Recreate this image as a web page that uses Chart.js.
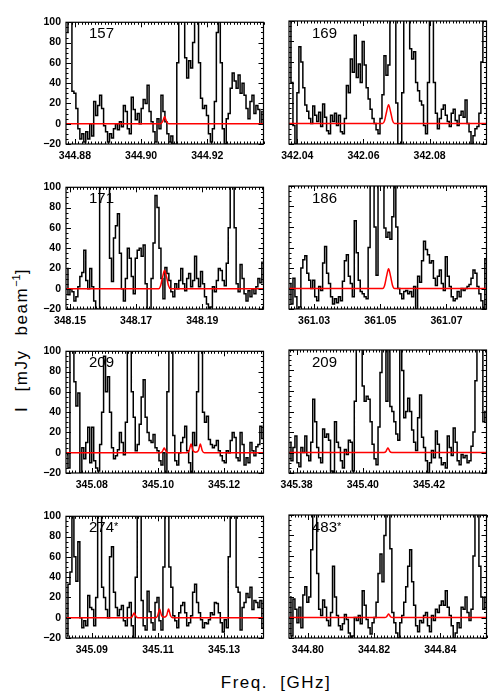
<!DOCTYPE html>
<html>
<head>
<meta charset="utf-8">
<script src="https://cdn.jsdelivr.net/npm/chart.js@4.4.1/dist/chart.umd.min.js"></script>
<style>
  body { margin: 0; background: #fff; font-family: "Liberation Sans", Arial, sans-serif; }
  #page { position: relative; width: 500px; height: 700px; overflow: hidden; }
  canvas { position: absolute; }
  .tag { position: absolute; font-size: 15px; line-height: 15px; color: #000; }
  .tag span { font-size: 11px; vertical-align: 2px; }
  #ytitle { position: absolute; left: 21px; top: 340px; font-size: 17px; letter-spacing: 1.5px; word-spacing: 8px;
            white-space: nowrap; transform: translate(-50%, -50%) rotate(-90deg); }
  #ytitle sup { font-size: 11px; letter-spacing: 0; }
  #xtitle { position: absolute; left: 276px; top: 683px; font-size: 17px; letter-spacing: 1.5px; word-spacing: 6px;
            white-space: nowrap; transform: translate(-50%, -50%); }
</style>
</head>
<body>
<div id="page">
  <div id="ytitle">I [mJy beam<sup>−1</sup>]</div>
  <div id="xtitle">Freq. [GHz]</div>
</div>
<script>
// panel labels and x ranges (GHz)
const names = ['157', '169', '171', '186', '209', '209', '274', '483'];
const starred = [false, false, false, false, false, false, true, true];
const xMins = [344.8773, 342.0375, 348.1488, 361.0224, 345.0722, 345.3777, 345.0822, 344.7943];
const xMaxs = [344.9370, 342.0972, 348.2085, 361.0821, 345.1319, 345.4374, 345.1419, 344.8540];
const xTicks = [
  [344.88, 344.90, 344.92],
  [342.04, 342.06, 342.08],
  [348.15, 348.17, 348.19],
  [361.03, 361.05, 361.07],
  [345.08, 345.10, 345.12],
  [345.38, 345.40, 345.42],
  [345.09, 345.11, 345.13],
  [344.80, 344.82, 344.84]
];
const yTicks = [-20, 0, 20, 40, 60, 80, 100];
const chanWidth = 0.000598; // GHz

// observed spectra (mJy/beam), one value per channel from the left edge
const spec157 = [90,150,130,32,30,15,-5,-15,-10,-18,-8,-15,0,-12,22,8,18,28,15,-2,
  -8,-18,-10,-14,-5,0,-6,2,-3,18,12,-5,-10,26,14,4,10,0,15,24,
  20,38,12,2,-8,-18,5,-5,28,12,2,-10,-18,-12,-20,-22,60,140,150,110,
  65,45,62,55,80,140,130,60,25,15,18,8,-10,-18,-5,22,90,140,60,-5,
  -20,5,10,35,50,42,35,48,30,40,28,15,5,22,28,10,18,14,0,12];
const spec169 = [130,40,-2,-20,30,75,60,35,18,12,5,0,17,8,2,11,-3,19,6,-7,
  -10,8,2,10,-2,8,-8,-10,5,37,30,63,50,86,45,58,40,80,57,35,
  24,14,5,0,-6,-10,5,28,66,47,57,120,150,110,20,-20,-22,30,120,150,
  105,73,63,70,40,32,22,18,-2,-10,40,120,130,40,10,-5,5,14,18,8,
  2,-3,10,14,3,-2,8,12,6,23,0,-8,-20,-12,-5,-3,10,60,140,150];
const spec171 = [20,-6,0,-3,-12,-8,2,12,16,38,8,0,20,2,-12,-20,-22,130,150,120,
  140,150,30,7,50,62,74,35,0,-12,10,40,30,12,-5,30,38,40,32,43,
  5,-20,-22,10,45,92,80,40,10,-10,21,15,8,-3,-8,5,0,8,20,5,
  -2,10,15,2,8,32,10,2,17,5,-8,-15,-20,-18,2,-3,8,20,18,8,
  3,25,60,140,150,60,5,-3,24,10,-5,-12,-2,-8,0,-5,2,10,6,26];
const spec186 = [5,-15,10,-8,-20,-18,20,28,32,15,8,0,8,-8,-12,2,-2,25,41,15,
  5,-8,-15,-10,-14,-8,-12,7,27,33,12,5,-8,66,35,8,-3,-5,-8,-10,
  40,140,150,60,13,120,150,130,59,50,55,48,70,140,60,0,-5,-10,-3,-2,
  -5,-3,-8,2,-20,12,6,27,46,38,33,25,27,10,3,12,18,5,-2,31,
  12,2,-8,-12,-10,-3,-8,0,-2,0,2,4,10,18,15,2,-5,-12,-20,28];
const spec209a = [-2,-15,120,150,70,46,59,-20,5,-6,10,25,-10,25,-8,-15,-18,8,40,95,
  60,75,40,5,-6,-3,3,20,10,-2,30,140,150,60,35,2,8,28,55,72,
  35,20,12,10,18,5,2,-8,-12,0,-20,60,150,130,17,-8,-12,0,10,15,
  26,2,-10,-20,20,7,60,150,130,40,30,36,13,8,5,7,12,2,-3,-8,
  -10,2,0,12,20,15,-5,-8,20,8,-12,-5,-10,10,2,-3,6,8,26,14];
const spec209b = [10,-8,5,16,-10,-14,5,0,16,-3,-8,10,52,30,5,-5,-10,23,15,18,
  12,-18,-20,30,10,5,-8,-15,3,-2,12,10,-18,50,130,150,120,65,50,55,
  52,30,8,-6,-12,25,78,150,140,50,120,45,40,30,18,12,140,80,34,40,
  53,40,22,10,2,34,56,15,5,-8,-20,-10,2,-5,21,8,-5,-12,-10,-15,
  16,5,-3,24,10,-8,-12,-2,-5,-3,-10,-8,6,20,70,140,150,130,30,40];
const spec274 = [-18,33,45,150,60,36,75,0,-10,-3,-8,22,10,8,-8,20,130,150,30,20,
  8,0,60,70,25,10,2,8,12,-3,-8,10,15,-8,-20,40,150,120,17,-8,
  -12,26,6,-5,-12,15,20,-3,-12,50,150,130,50,30,2,-3,-10,5,12,15,
  5,-8,-5,2,25,33,15,5,-2,-10,-5,-6,-2,5,3,15,14,5,-5,-14,
  -2,-10,60,150,140,120,30,25,-12,10,15,24,20,30,8,17,15,10,17,-10];
const spec483 = [20,-18,18,8,-5,10,-10,22,30,15,20,66,140,150,43,8,2,17,10,-3,
  -8,5,50,20,2,-8,-12,-6,3,-2,-15,-20,-18,0,-3,2,-6,26,12,-2,
  -10,-16,-5,0,15,43,62,35,80,150,130,67,5,-5,-15,-20,-5,2,15,30,
  50,66,35,12,-8,-14,-3,-5,2,5,-8,-14,2,-3,8,5,12,16,12,26,
  10,2,-8,-20,-15,-5,-10,10,8,20,5,-3,8,60,140,150,50,20,8,20];
const spectra = [spec157, spec169, spec171, spec186, spec209a, spec209b, spec274, spec483];

// fitted model lines (red): frequency and intensity points
const modelX157 = [344.877, 344.9058, 344.9064, 344.9068, 344.9071, 344.9074, 344.9078, 344.9084, 344.938];
const modelY157 = [0, 0, 1.5, 4.5, 7, 4.5, 1.5, 0, 0];
const modelX169 = [342.037, 342.0658, 342.0664, 342.0670, 342.0676, 342.0682, 342.0688, 342.0694, 342.098];
const modelY169 = [0, 0, 3, 11.5, 18.3, 11.5, 3, 0, 0];
const modelX171 = [348.148, 348.1768, 348.1774, 348.1780, 348.1786, 348.1792, 348.1798, 348.1804, 348.209];
const modelY171 = [0, 0, 3, 11.5, 18.3, 11.5, 3, 0, 0];
const modelX186 = [361.022, 361.0507, 361.0513, 361.0519, 361.0525, 361.0531, 361.0537, 361.0543, 361.083];
const modelY186 = [0, 0, 3, 12, 19.3, 12, 3, 0, 0];
const modelX209a = [345.072, 345.1007, 345.1013, 345.1016, 345.1019, 345.1022, 345.1025, 345.1031,
  345.1088, 345.1094, 345.1097, 345.1100, 345.1103, 345.1106, 345.1114,
  345.1122, 345.1125, 345.1128, 345.1131, 345.1134, 345.1140, 345.132];
const modelY209a = [0, 0, 1, 3, 4.6, 3, 1, 0, 0, 2, 5.5, 8.5, 5.5, 2, 0.5, 2, 5.5, 8.5, 5.5, 2, 0, 0];
const modelX209b = [345.377, 345.4064, 345.4070, 345.4073, 345.4076, 345.4079, 345.4082, 345.4088, 345.438];
const modelY209b = [0, 0, 1, 3, 4.3, 3, 1, 0, 0];
const modelX274 = [345.082, 345.1016, 345.1022, 345.1025, 345.1028, 345.1031, 345.1034, 345.1040,
  345.1093, 345.1099, 345.1102, 345.1105, 345.1108, 345.1111, 345.1118,
  345.1126, 345.1129, 345.1132, 345.1135, 345.1138, 345.1144, 345.142];
const modelY274 = [0, 0, 1, 3, 4.6, 3, 1, 0, 0, 2, 5.5, 8.5, 5.5, 2, 0.5, 2, 5.5, 8.5, 5.5, 2, 0, 0];
const modelX483 = [344.794, 344.8232, 344.8238, 344.8241, 344.8244, 344.8247, 344.8250, 344.8256, 344.855];
const modelY483 = [0, 0, 0.8, 2.3, 3.3, 2.3, 0.8, 0, 0];
const modelXs = [modelX157, modelX169, modelX171, modelX186, modelX209a, modelX209b, modelX274, modelX483];
const modelYs = [modelY157, modelY169, modelY171, modelY186, modelY209a, modelY209b, modelY274, modelY483];

// page layout
const plotLefts = [66, 289];
const plotTops = [21, 185.5, 350, 514.5];
const yAxisW = 66, padTop = 10, padRight = 12.5, xAxisH = 24;
const plotH = 123;

// IDL style box with inward major/minor ticks on all four sides
const idlBox = {
  id: 'idlBox',
  afterDatasetsDraw(chart) {
    const { ctx, chartArea: a, scales: { x, y } } = chart;
    ctx.save();
    ctx.strokeStyle = '#000';
    ctx.lineWidth = 1.2;
    ctx.strokeRect(a.left, a.top, a.right - a.left, a.bottom - a.top);
    ctx.lineWidth = 1;
    ctx.beginPath();
    const majors = x.ticks.map(t => t.value);
    for (let n = Math.ceil(x.min * 1000); n <= Math.floor(x.max * 1000); n++) {
      const v = n / 1000;
      const len = majors.some(m => Math.abs(m - v) < 1e-6) ? 5 : 2.5;
      const px = Math.round(x.getPixelForValue(v)) + 0.5;
      ctx.moveTo(px, a.bottom); ctx.lineTo(px, a.bottom - len);
      ctx.moveTo(px, a.top); ctx.lineTo(px, a.top + len);
    }
    for (let v = -20; v <= 100; v += 5) {
      const len = v % 20 === 0 ? 5 : 2.5;
      const py = Math.round(y.getPixelForValue(v)) + 0.5;
      ctx.moveTo(a.left, py); ctx.lineTo(a.left + len, py);
      ctx.moveTo(a.right, py); ctx.lineTo(a.right - len, py);
    }
    ctx.stroke();
    ctx.restore();
  }
};

const page = document.getElementById('page');
const tickFont = { family: '"Liberation Sans", Arial, sans-serif', size: 10.5, weight: 'bold' };

names.forEach((name, i) => {
  const col = i % 2, row = Math.floor(i / 2);
  const left = plotLefts[col] - yAxisW;
  const top = plotTops[row] - padTop;

  const $canvas = document.createElement('canvas');
  $canvas.width = yAxisW + 197.5 + padRight;
  $canvas.height = padTop + plotH + xAxisH;
  $canvas.style.left = left + 'px';
  $canvas.style.top = top + 'px';
  page.append($canvas);

  const $tag = document.createElement('div');
  $tag.className = 'tag';
  $tag.style.left = (plotLefts[col] + 23) + 'px';
  $tag.style.top = (plotTops[row] + 4) + 'px';
  $tag.textContent = name;
  if (starred[i]) {
    const $star = document.createElement('span');
    $star.textContent = '*';
    $tag.append($star);
  }
  page.append($tag);

  const spec = spectra[i].map((v, k) => ({ x: xMins[i] + (k + 0.5) * chanWidth, y: v }));
  const model = modelXs[i].map((v, k) => ({ x: v, y: modelYs[i][k] }));

  new Chart($canvas, {
    type: 'line',
    data: {
      datasets: [
        { data: model, borderColor: '#ff0000', borderWidth: 1.5, pointRadius: 0,
          cubicInterpolationMode: 'monotone', order: 0 },
        { data: spec, borderColor: '#000', borderWidth: 1.5, pointRadius: 0,
          stepped: 'middle', order: 1 }
      ]
    },
    options: {
      responsive: false,
      animation: false,
      events: [],
      layout: { padding: { top: padTop, right: padRight, left: 0, bottom: 0 } },
      plugins: { legend: { display: false }, tooltip: { enabled: false } },
      scales: {
        x: {
          type: 'linear',
          min: xMins[i],
          max: xMaxs[i],
          grid: { display: false, drawTicks: false },
          border: { display: false },
          afterBuildTicks: s => { s.ticks = xTicks[i].map(v => ({ value: v })); },
          afterFit: s => { s.height = xAxisH; },
          ticks: {
            autoSkip: false, maxRotation: 0, padding: 6, color: '#000', font: tickFont,
            callback: v => v.toFixed(2)
          }
        },
        y: {
          min: -20,
          max: 100,
          grid: { display: false, drawTicks: false },
          border: { display: false },
          afterBuildTicks: s => { s.ticks = yTicks.map(v => ({ value: v })); },
          afterFit: s => { s.width = yAxisW; },
          ticks: {
            display: col === 0, padding: 5, color: '#000', font: tickFont,
            callback: v => v < 0 ? '\u2212' + Math.abs(v) : String(v)
          }
        }
      }
    },
    plugins: [idlBox]
  });
});
</script>
</body>
</html>
